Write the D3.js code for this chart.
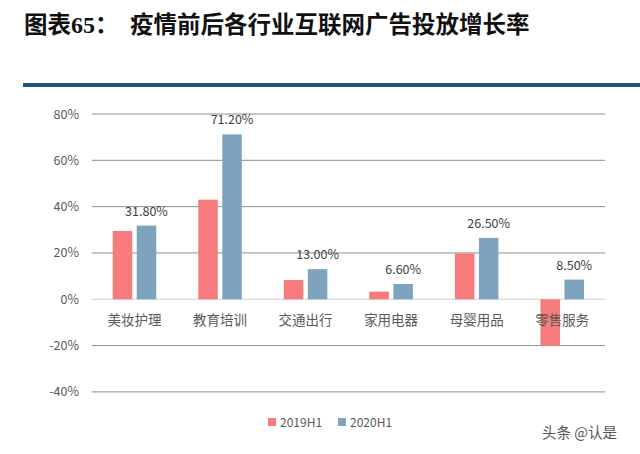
<!DOCTYPE html>
<html><head><meta charset="utf-8">
<script src="https://cdn.jsdelivr.net/npm/d3@7"></script>
<style>html,body{margin:0;padding:0;background:#fff;}</style>
</head><body>
<svg id="chart" width="640" height="454"></svg>
<script>
const categories = ["美妆护理","教育培训","交通出行","家用电器","母婴用品","零售服务"];
const series2019 = [29.5, 43.0, 8.3, 3.3, 19.8, -20.0];
const series2020 = [31.8, 71.2, 13.0, 6.6, 26.5, 8.5];
const seriesNames = ["2019H1","2020H1"];
const yTicks = [-40,-20,0,20,40,60,80];
const colors = ["#f77b7c","#7ea3be"];

const svg = d3.select("#chart");
const font = "'Noto Sans CJK SC','Noto Sans',sans-serif";

// Title
const title = svg.append("text").attr("x",24).attr("y",33)
  .attr("font-family",font).attr("font-weight",700).attr("font-size",23.5).attr("fill","#111");
title.append("tspan").text("图表");
title.append("tspan").attr("font-family","'Liberation Serif',serif").attr("font-size",24).text("65");
title.append("tspan").text("：");
title.append("tspan").attr("x",130).text("疫情前后各行业互联网广告投放增长率");

svg.append("rect").attr("x",23).attr("y",83).attr("width",617).attr("height",4).attr("fill","#1f5582");

const x0 = d3.scaleBand().domain(categories).range([91.7,605]).paddingInner(0).paddingOuter(0);
const y = d3.scaleLinear().domain([-40,80]).range([391.9,114]);
const barW = 19.5, gap = 4.5;

// gridlines
svg.append("g").selectAll("line").data(yTicks).join("line")
  .attr("x1",91.7).attr("x2",605)
  .attr("y1",d=>y(d)).attr("y2",d=>y(d))
  .attr("stroke",d=>d===0?"#d0d0d0":"#8f8f8f").attr("stroke-width",1);

// y labels
svg.append("g").selectAll("text").data(yTicks).join("text")
  .attr("x",79).attr("y",d=>y(d)+4.5).attr("text-anchor","end")
  .attr("font-family",font).attr("font-size",12.5).attr("fill","#595959")
  .text(d=>d+"%");

const data = categories.map((c,i)=>({c, v:[series2019[i],series2020[i]]}));

const g = svg.append("g");
data.forEach(d=>{
  const cx = x0(d.c)+x0.bandwidth()/2;
  d.v.forEach((v,k)=>{
    const bx = k===0 ? cx-gap/2-barW : cx+gap/2;
    g.append("rect").attr("x",bx).attr("width",barW)
      .attr("y",Math.min(y(v),y(0))).attr("height",Math.abs(y(v)-y(0)))
      .attr("fill",colors[k]);
  });
  const v2 = d.v[1];
  g.append("text").attr("x",cx+gap/2+barW/2).attr("y",y(v2)-10)
    .attr("text-anchor","middle").attr("font-family",font).attr("font-size",12.5)
    .attr("fill","#404040").text(v2.toFixed(2)+"%");
});

// category labels
svg.append("g").selectAll("text").data(categories).join("text")
  .attr("x",d=>x0(d)+x0.bandwidth()/2).attr("y",325)
  .attr("text-anchor","middle").attr("font-family",font).attr("font-size",13.5)
  .attr("fill","#595959").text(d=>d);

// legend
const lx = [268, 338];
seriesNames.forEach((n,k)=>{
  svg.append("rect").attr("x",lx[k]).attr("y",418).attr("width",8).attr("height",8).attr("fill",colors[k]);
  svg.append("text").attr("x",lx[k]+12).attr("y",426.5).attr("font-family",font)
    .attr("font-size",12).attr("fill","#595959").text(n);
});

// watermark
svg.append("text").attr("x",542).attr("y",438).attr("font-family",font).attr("font-size",14.5)
  .attr("fill","#555").text("头条 @认是");
</script>
</body></html>
